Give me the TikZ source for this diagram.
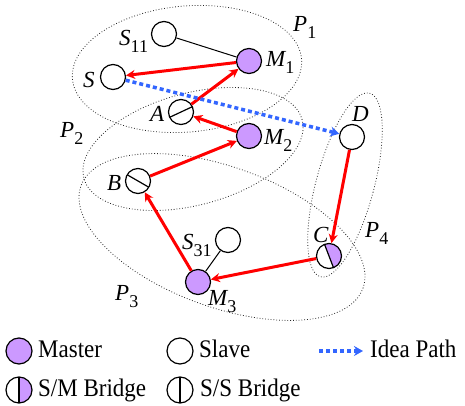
\documentclass[tikz,border=0pt]{standalone}
\usepackage{fontspec}
\setmainfont{Liberation Serif}
\usetikzlibrary{arrows.meta}
\definecolor{mpurple}{HTML}{CC99FF}
\definecolor{ideablue}{HTML}{3366FF}
\newcommand{\lab}[2]{{\itshape #1}\raisebox{-7pt}{\fontsize{18}{18}\selectfont #2}}
\newcommand{\tall}[1]{\scalebox{1}[1.1]{#1}}
\begin{document}
\begin{tikzpicture}[x=1pt,y=-1pt,
  dev/.style={circle,draw=black,line width=1.2pt,minimum size=25pt,inner sep=0pt},
  master/.style={dev,fill=mpurple},
  slave/.style={dev,fill=white},
  smb/.style={dev,fill=white,path picture={
      \fill[mpurple] (path picture bounding box.center) ++(#1+90:20pt) -- ++(#1:20pt) -- ++(#1-90:40pt) -- ++(#1+180:20pt) -- cycle;
      \draw[line width=1.2pt] (path picture bounding box.center) ++(#1+90:20pt) -- ++(#1-90:40pt);}},
  ssb/.style={dev,fill=white,path picture={
      \draw[line width=1.2pt] (path picture bounding box.center) ++(#1:20pt) -- ++(#1+180:40pt);}},
  link/.style={draw=red,line width=3pt,-{Stealth[length=9pt,width=9pt]}},
  wire/.style={draw=black,line width=1pt},
  idea/.style={draw=ideablue,line width=3.5pt,dash pattern=on 4pt off 3pt,-{Stealth[length=9pt,width=10pt]}},
  grp/.style={draw=black!85,dotted,line width=0.8pt},
  lbl/.style={anchor=base west,inner sep=0pt,font=\fontsize{23}{23}\selectfont}]

\useasboundingbox (0,0) rectangle (465,406);

% groups
\draw[grp,rotate around={5:(187,69)}] (187,69) ellipse [x radius=115pt,y radius=63pt];
\draw[grp,rotate around={15:(193,149)}] (193,149) ellipse [x radius=113pt,y radius=56pt];
\draw[grp,rotate around={-20:(222,237)}] (222,237) ellipse [x radius=150pt,y radius=70pt];
\draw[grp,rotate around={-15:(345,185)}] (345,185) ellipse [x radius=29pt,y radius=95pt];

% devices
\node[slave] (S11) at (164,34) {};
\node[master] (M1) at (249,61) {};
\node[slave] (S) at (113,77) {};
\node[ssb=25] (A) at (181,112) {};
\node[master] (M2) at (249,136) {};
\node[slave] (D) at (352,137) {};
\node[ssb=-30] (B) at (138,181) {};
\node[slave] (S31) at (228,240) {};
\node[master] (M3) at (198,282) {};
\node[smb=21] (C) at (329,256) {};

% connections
\draw[wire] (S11) -- (M1);
\draw[wire] (S31) -- (M3);
\draw[link] (M1) -- (S);
\draw[link] (A) -- (M1);
\draw[link] (M2) -- (A);
\draw[link] (B) -- (M2);
\draw[link] (M3) -- (B);
\draw[link] (C) -- (M3);
\draw[link] (D) -- (C);
\draw[idea] (S) -- (D);

% labels
\node[lbl] (tS11) at (119,46) {\lab{S}{11}};
\node[lbl] (tM1) at (266,67) {\lab{M}{1}};
\node[lbl] (tP1) at (293,32) {\lab{P}{1}};
\node[lbl] (tS) at (83,88) {\itshape S};
\node[lbl] (tA) at (150,122) {\itshape A};
\node[lbl] (tP2) at (60,138) {\lab{P}{2}};
\node[lbl] (tM2) at (264,145) {\lab{M}{2}};
\node[lbl] (tD) at (352,122) {\itshape D};
\node[lbl] (tB) at (107,190) {\itshape B};
\node[lbl] (tC) at (313,242) {\itshape C};
\node[lbl] (tP4) at (365,237) {\lab{P}{4}};
\node[lbl] (tS31) at (182,249) {\lab{S}{31}};
\node[lbl] (tM3) at (208,305) {\lab{M}{3}};
\node[lbl] (tP3) at (115,300) {\lab{P}{3}};

% legend
\node[master,minimum size=26pt] (Lm) at (19,351) {};
\node[lbl] (Lmt) at (38,357) {\tall{Master}};
\node[slave,minimum size=26pt] (Ls) at (180,351) {};
\node[lbl] (Lst) at (199,357) {\tall{Slave}};
\coordinate (Li1) at (319,351);
\coordinate (Li2) at (363,351);
\draw[idea] (Li1) -- (Li2);
\node[lbl] (Lit) at (370,357) {\tall{Idea Path}};
\node[smb=0,minimum size=26pt] (Lsm) at (19,390) {};
\node[lbl] (Lsmt) at (38,396) {\tall{S/M Bridge}};
\node[ssb=90,minimum size=26pt] (Lss) at (180,390) {};
\node[lbl] (Lsst) at (200,396) {\tall{S/S Bridge}};
\end{tikzpicture}
\end{document}
